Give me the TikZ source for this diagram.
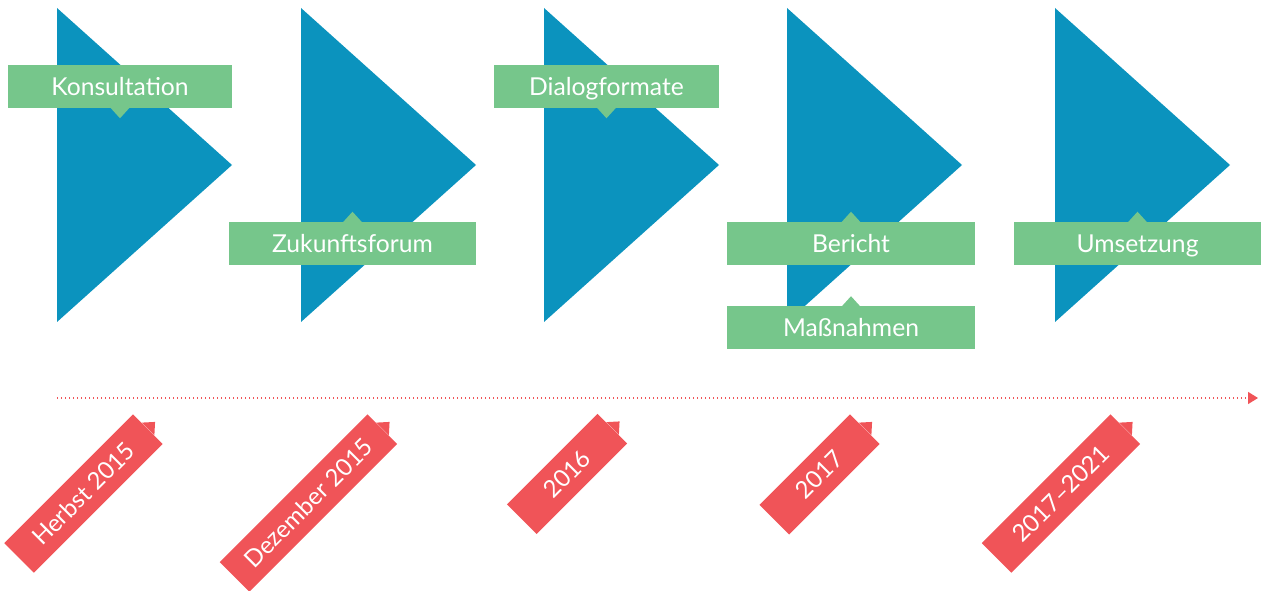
\documentclass[tikz,border=0pt]{standalone}
\usepackage{fontspec}
\setmainfont{Lato}
\usepackage{tikz}
\usetikzlibrary{arrows.meta,calc}
\definecolor{triblue}{RGB}{11,147,190}
\definecolor{boxgreen}{RGB}{118,198,139}
\definecolor{tagred}{RGB}{240,84,88}
\tikzset{
    bubble/.style args={#1}{fill=boxgreen, text=white, minimum width=#1*0.75pt, minimum height=32.25pt, inner sep=0pt, text height=13.25pt, text depth=0pt, font=\fontsize{18.5}{20}\selectfont},
    datetag/.style args={#1}{fill=tagred, text=white, minimum width=#1*0.75pt, minimum height=31.5pt, inner sep=0pt, text height=12.9pt, text depth=0pt, rotate=45, anchor=east, font=\fontsize{18}{20}\selectfont}
}

\begin{document}
\begin{tikzpicture}[x=0.75pt,y=-0.75pt]
\useasboundingbox (0,0) rectangle (1270,591);
\def\tw{175}    % width of a triangle
\def\ptr{10}    % size of the bubble pointer
% triangles
\foreach \x in {57,301,544,787,1055} {%
\fill[triblue] (\x,8) -- (\x+\tw,165) -- (\x,322) -- cycle;
};
% green boxes
\node[bubble=224] (konsultation) at (120,86.5) {Konsultation};
\node[bubble=225] (dialog) at (606.5,86.5) {Dialogformate};
\node[bubble=247] (zukunft) at (352.5,243.5) {Zukunftsforum};
\node[bubble=248] (bericht) at (851,243.5) {Bericht};
\node[bubble=248] (massnahmen) at (851,328) {Maßnahmen};
\node[bubble=247] (umsetzung) at (1137.5,243.5) {Umsetzung};
% pointers
\foreach \b in {konsultation,dialog} {%
\fill[boxgreen] ($(\b.south)+(-\ptr,-1)$) -- ++(\ptr,\ptr+1) -- ++(\ptr,-\ptr-1) -- cycle;
};
\foreach \b in {zukunft,bericht,massnahmen,umsetzung} {%
\fill[boxgreen] ($(\b.north)+(-\ptr,1)$) -- ++(\ptr,-\ptr-1) -- ++(\ptr,\ptr+1) -- cycle;
};
% time line
\coordinate (tstart) at (57,398);
\coordinate (tend) at (1258,398);
\draw[tagred, line width=1pt, dash pattern=on 0.8pt off 2.2pt, -{Triangle[length=7.5pt,width=9pt]}] (tstart) -- (tend);
% date tags
\node[datetag=182] (herbst) at (148,429) {Herbst 2015};
\node[datetag=209] (dezember) at (382.5,429) {Dezember 2015};
\node[datetag=128] (y2016) at (612.5,428.5) {2016};
\node[datetag=128] (y2017) at (865,429) {2017};
\node[datetag=182] (y2021) at (1125.5,429) {2017–2021};
\foreach \t in {herbst,dezember,y2016,y2017,y2021} {%
\fill[tagred] ($(\t.east)!6.75pt!(\t.north east)$) -- ($(\t.east)!-7.5pt!(\t.west)$) -- ($(\t.east)!6.75pt!(\t.south east)$) -- cycle;
};
\end{tikzpicture}
\end{document}
